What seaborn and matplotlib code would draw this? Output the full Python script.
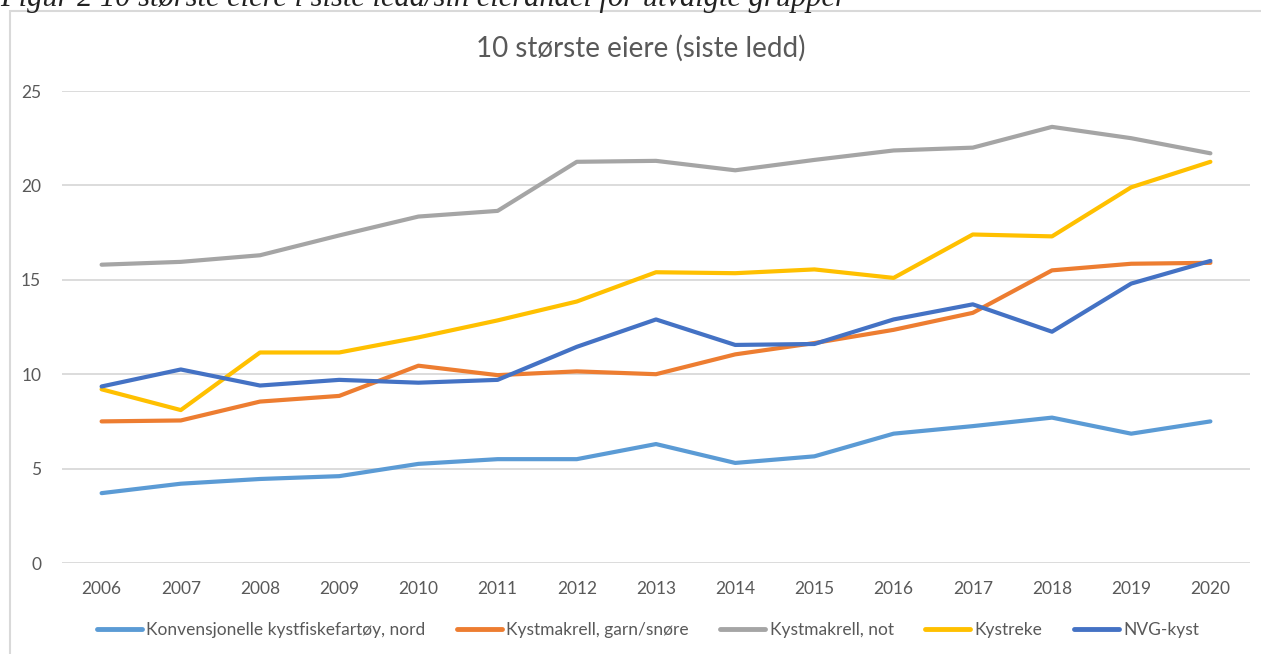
import matplotlib
matplotlib.use("Agg")
import matplotlib.pyplot as plt
from matplotlib.patches import Rectangle
from matplotlib.lines import Line2D
import seaborn as sns
import pandas as pd

years = [str(y) for y in range(2006, 2021)]
series_names = ["Konvensjonelle kystfiskefartøy, nord", "Kystmakrell, garn/snøre",
                "Kystmakrell, not", "Kystreke", "NVG-kyst"]
konvensjonelle = [3.7, 4.2, 4.45, 4.6, 5.25, 5.5, 5.5, 6.3, 5.3, 5.65, 6.85, 7.25, 7.7, 6.85, 7.5]
kystmakrell_garn = [7.5, 7.55, 8.55, 8.85, 10.45, 9.95, 10.15, 10.0, 11.05, 11.65, 12.35, 13.25, 15.5, 15.85, 15.9]
kystmakrell_not = [15.8, 15.95, 16.3, 17.35, 18.35, 18.65, 21.25, 21.3, 20.8, 21.35, 21.85, 22.0, 23.1, 22.5, 21.7]
kystreke = [9.2, 8.1, 11.15, 11.15, 11.95, 12.85, 13.85, 15.4, 15.35, 15.55, 15.1, 17.4, 17.3, 19.9, 21.25]
nvg_kyst = [9.35, 10.25, 9.4, 9.7, 9.55, 9.7, 11.45, 12.9, 11.55, 11.6, 12.9, 13.7, 12.25, 14.8, 16.0]
colors = ["#5B9BD5", "#ED7D31", "#A5A5A5", "#FFC000", "#4472C4"]
yticks = [0, 5, 10, 15, 20, 25]

sns.set_theme(style="white")
plt.rcParams["font.family"] = ["Lato", "DejaVu Sans"]

rows = []
for name, vals in zip(series_names, [konvensjonelle, kystmakrell_garn, kystmakrell_not, kystreke, nvg_kyst]):
    for i, (yr, v) in enumerate(zip(years, vals)):
        rows.append({"idx": i, "year": yr, "value": v, "series": name})
df = pd.DataFrame(rows)

fig = plt.figure(figsize=(12.61, 6.54), dpi=100)
fig.patch.set_facecolor("white")
ax = fig.add_axes([62/1261, 1-563/654, (1250-62)/1261, (563-91)/654])

sns.lineplot(data=df, x="idx", y="value", hue="series", hue_order=series_names,
             palette=colors, linewidth=3.0, ax=ax, legend=False, sort=False)

ax.set_xlim(-0.5, len(years) - 0.5)
ax.set_ylim(0, 25)
ax.set_xticks(range(len(years)))
ax.set_xticklabels(years)
ax.set_yticks(yticks)
ax.set_yticklabels([str(t) for t in yticks])
ax.yaxis.grid(True, color="#D9D9D9", linewidth=1.3)
ax.xaxis.grid(False)
for s in ax.spines.values():
    s.set_visible(False)
ax.tick_params(axis="both", colors="#595959", labelsize=12.5, length=0)
ax.tick_params(axis="x", pad=13)
ax.tick_params(axis="y", pad=15)
ax.set_xlabel("")
ax.set_ylabel("")

fig.text(641/1261, 1-48/654, "10 største eiere (siste ledd)", ha="center", va="center",
         fontsize=20, color="#595959")

handles = [Line2D([0], [0], color=c, lw=3.5) for c in colors]
fig.legend(handles, series_names, loc="center", bbox_to_anchor=(648/1261, 1-630/654),
           ncol=5, frameon=False, fontsize=12.5, handlelength=2.6, handletextpad=0.25,
           columnspacing=1.8, labelcolor="#595959")

# chart frame
fig.add_artist(Rectangle((10/1261, -0.01), 1.02, 1-11/654 + 0.01, transform=fig.transFigure,
                         fill=False, edgecolor="#D9D9D9", linewidth=1.5))

# cropped caption above (cut off at the top edge, as in the source)
fig.text(0.0, 1.0 + 2/654, "Figur 2 10 største eiere i siste ledd/sin eierandel for utvalgte grupper",
         ha="left", va="center", fontsize=22, style="italic",
         family=["Liberation Serif", "DejaVu Serif"], color="#222222")

fig.savefig("out.png", dpi=100, facecolor="white")
